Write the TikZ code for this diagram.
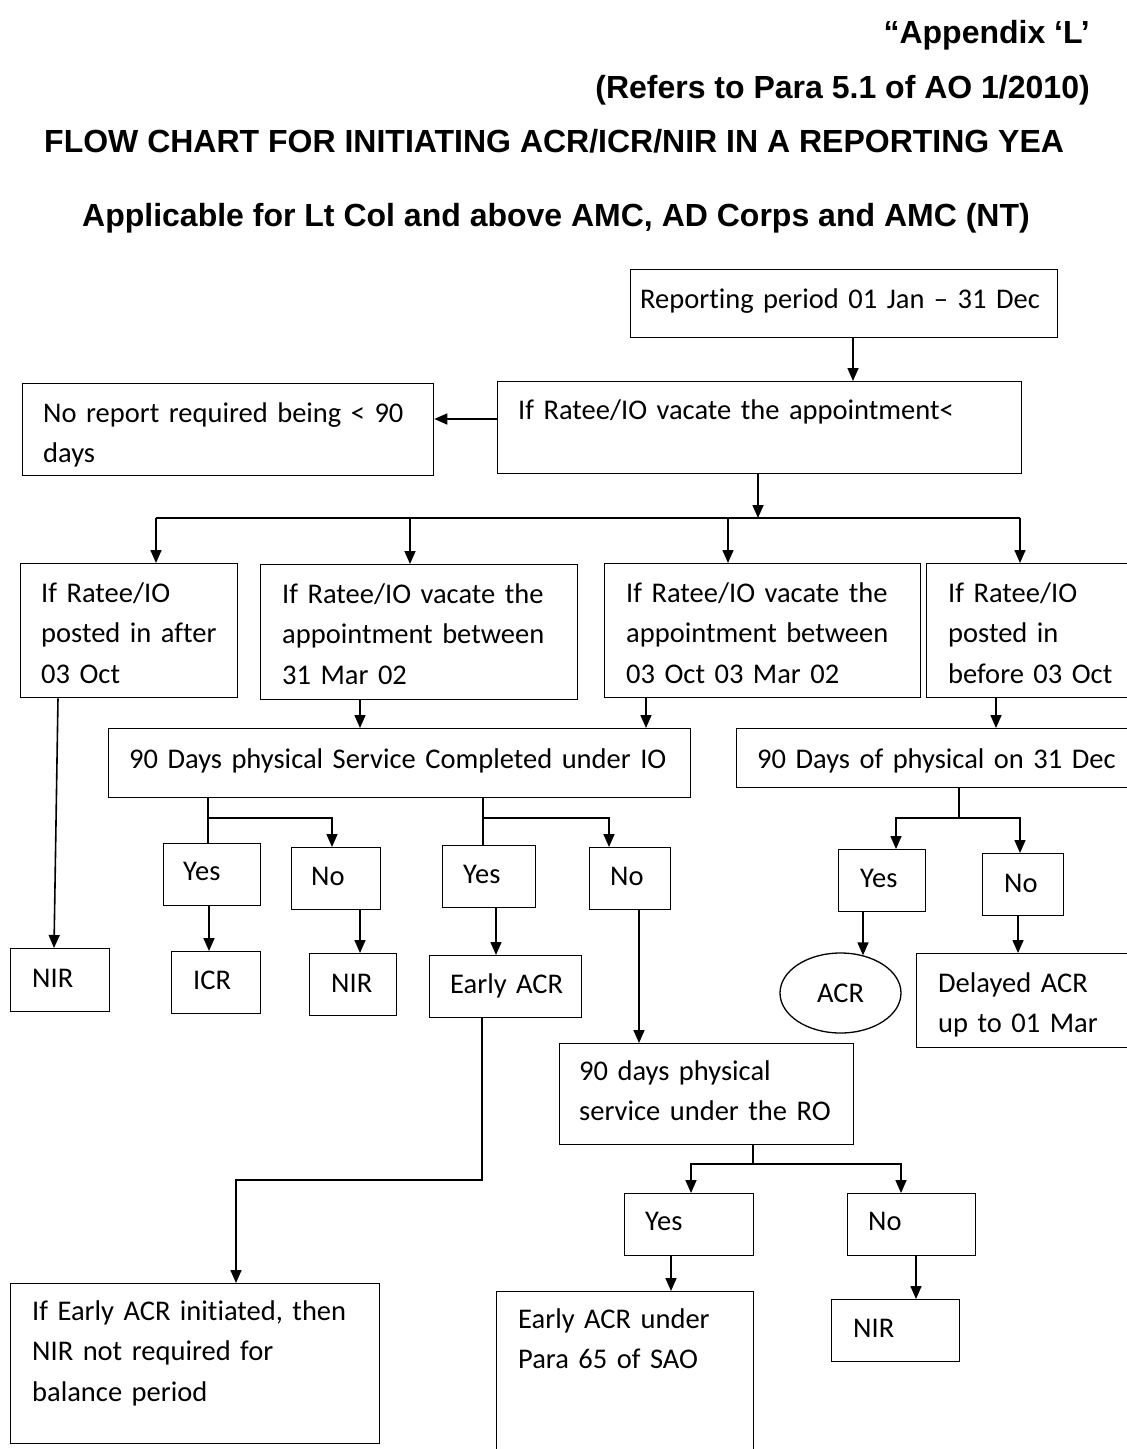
\documentclass[tikz,border=0pt]{standalone}
\usepackage{fontspec}
\setmainfont{Carlito}[Ligatures=NoCommon]
\newfontfamily\headfont{Liberation Sans}
\usetikzlibrary{arrows.meta,shapes.geometric}

\begin{document}
\begin{tikzpicture}[x=1pt, y=-1pt,
	box/.style = {draw, line width=1.3pt, anchor=north west, inner sep=0pt},
	lbl/.style = {anchor=base west, inner sep=0pt, align=left, text width=700pt,
		font=\fontsize{28.5}{40.5}\selectfont},
	head/.style = {anchor=base east, inner sep=0pt,
		font=\headfont\bfseries\fontsize{32}{38}\selectfont},
	link/.style = {line width=1.6pt},
	arr/.style = {link, -{Triangle[length=13pt, width=11pt]}}]

	\useasboundingbox (0,0) rectangle (1127,1449);
	\clip (0,0) rectangle (1127,1449);

	\node[head] (appx) at (1090,43) {“Appendix ‘L’};
	\node[head] (refers) at (1090,98) {(Refers to Para 5.1 of AO 1/2010)};
	\node[head, anchor=base west] (title) at (44,152) {FLOW CHART FOR INITIATING ACR/ICR/NIR IN A REPORTING YEA};
	\node[head, anchor=base west] (applies) at (82,226) {Applicable for Lt Col and above AMC, AD Corps and AMC (NT)};

	\node[box, minimum width=427, minimum height=68] (report) at (630,269) {};
	\node[lbl] (reportlbl) at (640,308) {Reporting period 01 Jan – 31 Dec};
	\node[box, minimum width=524, minimum height=92] (vacate) at (497,381) {};
	\node[lbl] (vacatelbl) at (518,419) {If Ratee/IO vacate the appointment<};
	\node[box, minimum width=411, minimum height=92] (noreport) at (22,383) {};
	\node[lbl] (noreportlbl) at (43,422) {No report required being < 90\\days};

	\node[box, minimum width=217, minimum height=134] (after) at (20,563) {};
	\node[lbl] (afterlbl) at (41,602) {If Ratee/IO\\posted in after\\03 Oct};
	\node[box, minimum width=317, minimum height=135] (betweena) at (260,564) {};
	\node[lbl] (betweenalbl) at (282,603) {If Ratee/IO vacate the\\appointment between\\31 Mar 02};
	\node[box, minimum width=316, minimum height=134] (betweenb) at (604,563) {};
	\node[lbl] (betweenblbl) at (626,602) {If Ratee/IO vacate the\\appointment between\\03 Oct 03 Mar 02};
	\node[box, minimum width=230, minimum height=134] (before) at (926,563) {};
	\node[lbl] (beforelbl) at (948,602) {If Ratee/IO\\posted in\\before 03 Oct};

	\node[box, minimum width=582, minimum height=69] (ioserv) at (108,728) {};
	\node[lbl] (ioservlbl) at (129,768) {90 Days physical Service Completed under IO};
	\node[box, minimum width=420, minimum height=59] (dec) at (736,728) {};
	\node[lbl] (declbl) at (757,768) {90 Days of physical on 31 Dec};

	\node[box, minimum width=97, minimum height=62] (yesa) at (163,843) {};
	\node[lbl] (yesalbl) at (183,880) {Yes};
	\node[box, minimum width=89, minimum height=62] (noa) at (291,847) {};
	\node[lbl] (noalbl) at (311,885) {No};
	\node[box, minimum width=93, minimum height=62] (yesb) at (442,845) {};
	\node[lbl] (yesblbl) at (463,883) {Yes};
	\node[box, minimum width=81, minimum height=62] (nob) at (589,847) {};
	\node[lbl] (noblbl) at (610,885) {No};
	\node[box, minimum width=87, minimum height=62] (yesc) at (838,849) {};
	\node[lbl] (yesclbl) at (860,887) {Yes};
	\node[box, minimum width=81, minimum height=62] (noc) at (982,853) {};
	\node[lbl] (noclbl) at (1004,892) {No};

	\node[box, minimum width=99, minimum height=63] (nira) at (10,948) {};
	\node[lbl] (niralbl) at (32,987) {NIR};
	\node[box, minimum width=89, minimum height=62] (icr) at (171,951) {};
	\node[lbl] (icrlbl) at (193,989) {ICR};
	\node[box, minimum width=87, minimum height=62] (nirb) at (309,953) {};
	\node[lbl] (nirblbl) at (331,992) {NIR};
	\node[box, minimum width=152, minimum height=62] (early) at (429,955) {};
	\node[lbl] (earlylbl) at (450,993) {Early ACR};
	\node[draw, ellipse, line width=1.3pt, inner sep=0pt, minimum width=121, minimum height=80,
		font=\fontsize{28.5}{40.5}\selectfont] (acr) at (840.5,993) {ACR};
	\node[box, minimum width=240, minimum height=94] (delayed) at (916,953) {};
	\node[lbl] (delayedlbl) at (938,992) {Delayed ACR\\up to 01 Mar};

	\node[box, minimum width=294, minimum height=101] (roserv) at (559,1043) {};
	\node[lbl] (roservlbl) at (579,1080) {90 days physical\\service under the RO};
	\node[box, minimum width=129, minimum height=62] (yesd) at (624,1193) {};
	\node[lbl] (yesdlbl) at (645,1230) {Yes};
	\node[box, minimum width=128, minimum height=62] (nod) at (847,1193) {};
	\node[lbl] (nodlbl) at (868,1230) {No};

	\node[box, minimum width=369, minimum height=160] (balance) at (10,1283) {};
	\node[lbl] (balancelbl) at (32,1320) {If Early ACR initiated, then\\NIR not required for\\balance period};
	\node[box, minimum width=257, minimum height=200] (sao) at (496,1291) {};
	\node[lbl] (saolbl) at (518,1328) {Early ACR under\\Para 65 of SAO};
	\node[box, minimum width=128, minimum height=62] (nirc) at (831,1299) {};
	\node[lbl] (nirclbl) at (853,1337) {NIR};

	\coordinate (hub) at (758,518);
	\coordinate (busl) at (156,518);
	\coordinate (busa) at (410,518);
	\coordinate (busb) at (728,518);
	\coordinate (busr) at (1020,518);
	\coordinate (splita) at (208,818);
	\coordinate (splitb) at (483,818);
	\coordinate (splitc) at (959,818);
	\coordinate (bend) at (482,1180);
	\coordinate (splitd) at (753,1164);

	\draw[arr] (report.south -| 853,0) to (vacate.north -| 853,0);
	\draw[arr] (vacate.west |- 0,419) to (noreport.east |- 0,419);
	\draw[arr] (vacate.south -| hub) to (hub);
	\draw[link] (busl) to (busr);
	\draw[arr] (busl) to (after.north -| busl);
	\draw[arr] (busa) to (betweena.north -| busa);
	\draw[arr] (busb) to (betweenb.north -| busb);
	\draw[arr] (busr) to (before.north -| busr);

	\draw[arr] ([xshift=38pt]after.south west) to ([xshift=44pt]nira.north west);
	\draw[arr] (betweena.south -| 360,0) to (ioserv.north -| 360,0);
	\draw[arr] (betweenb.south -| 646,0) to (ioserv.north -| 646,0);
	\draw[arr] (before.south -| 996,0) to (dec.north -| 996,0);

	\draw[link] (ioserv.south -| splita) to (yesa.north -| splita);
	\draw[arr] (splita) -| (noa.north -| 332,0);
	\draw[link] (ioserv.south -| splitb) to (yesb.north -| splitb);
	\draw[arr] (splitb) -| (nob.north -| 609,0);
	\draw[link] (dec.south -| splitc) to (splitc);
	\draw[arr] (splitc) -| (yesc.north -| 896,0);
	\draw[arr] (splitc) -| (noc.north -| 1020,0);

	\draw[arr] (yesa.south -| 209,0) to (icr.north -| 209,0);
	\draw[arr] (noa.south -| 360,0) to (nirb.north -| 360,0);
	\draw[arr] (yesb.south -| 496,0) to (early.north -| 496,0);
	\draw[arr] (nob.south -| 639,0) to (roserv.north -| 639,0);
	\draw[arr] (yesc.south -| 863,0) to ([yshift=-3pt]acr.north -| 863,0);
	\draw[arr] (noc.south -| 1018,0) to (delayed.north -| 1018,0);

	\draw[arr] (early.south -| bend) -- (bend) -| (balance.north -| 236,0);
	\draw[arr] (roserv.south -| splitd) -- (splitd) -| (yesd.north -| 691,0);
	\draw[arr] (splitd) -| (nod.north -| 901,0);
	\draw[arr] (yesd.south -| 671,0) to (sao.north -| 671,0);
	\draw[arr] (nod.south -| 916,0) to (nirc.north -| 916,0);
\end{tikzpicture}
\end{document}
